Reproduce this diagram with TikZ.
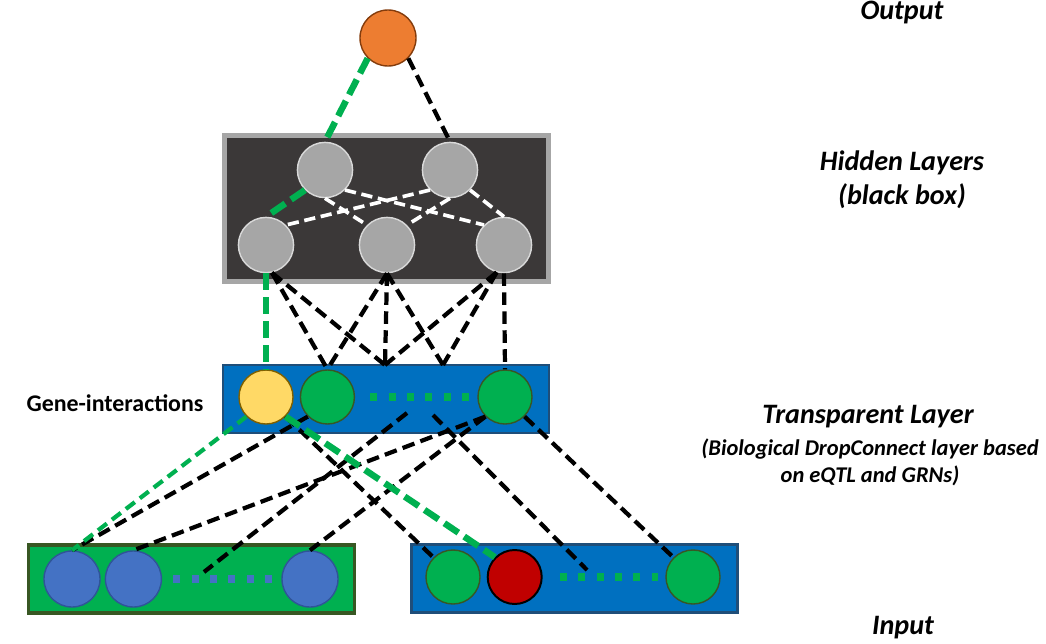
\documentclass[tikz,border=0pt]{standalone}
\usepackage{fontspec}
\setmainfont{Carlito}
\usepackage{tikz}
\usetikzlibrary{positioning, calc}
\definecolor{outorange}{RGB}{237,125,49}
\definecolor{outbrown}{RGB}{132,60,12}
\definecolor{boxdark}{RGB}{59,56,56}
\definecolor{boxrim}{RGB}{166,166,166}
\definecolor{hidgray}{RGB}{166,166,166}
\definecolor{hidrim}{RGB}{217,217,217}
\definecolor{layerblue}{RGB}{0,112,192}
\definecolor{layerrim}{RGB}{31,78,121}
\definecolor{genegreen}{RGB}{0,176,80}
\definecolor{generim}{RGB}{56,87,35}
\definecolor{gixyellow}{RGB}{255,217,102}
\definecolor{gixrim}{RGB}{127,96,0}
\definecolor{snpblue}{RGB}{68,114,196}
\definecolor{snprim}{RGB}{47,85,151}
\definecolor{hitred}{RGB}{192,0,0}
\tikzset{
  neuron/.style={circle, inner sep=0pt, minimum size=1.35cm, line width=1pt},
  outneuron/.style={neuron, minimum size=1.4cm, draw=outbrown, fill=outorange},
  hidneuron/.style={neuron, minimum size=1.38cm, draw=hidrim, fill=hidgray},
  geneneuron/.style={neuron, draw=generim, fill=genegreen},
  gixneuron/.style={neuron, draw=gixrim, fill=gixyellow},
  snpneuron/.style={neuron, minimum size=1.4cm, draw=snprim, fill=snpblue},
  hitneuron/.style={neuron, line width=1.4pt, draw=black, fill=hitred},
  layerbox/.style={rectangle, inner sep=0pt, minimum width=8.15cm, minimum height=1.7cm},
  hiddenbox/.style={layerbox, minimum height=3.65cm, line width=3.2pt, draw=boxrim, fill=boxdark},
  transbox/.style={layerbox, line width=1.5pt, draw=layerrim, fill=layerblue},
  snpbox/.style={layerbox, line width=2.4pt, draw=generim, fill=genegreen},
  genebox/.style={layerbox, line width=1.5pt, draw=layerrim, fill=layerblue},
  dashblack/.style={line width=3pt, dash pattern=on 9pt off 4.5pt, color=black},
  dashwhite/.style={line width=2.6pt, dash pattern=on 8pt off 4pt, color=white},
  dashgreen/.style={line width=4.6pt, dash pattern=on 12pt off 5pt, color=genegreen},
  dashgreenthin/.style={line width=3pt, dash pattern=on 8pt off 4.5pt, color=genegreen},
  dotrow/.style={line width=5pt, dash pattern=on 5pt off 8.1pt},
  title/.style={font=\fontsize{20}{24}\selectfont\bfseries\itshape, align=center, inner sep=0pt},
  note/.style={font=\fontsize{16}{19.2}\selectfont\bfseries\itshape, align=center, inner sep=0pt}
}
\begin{document}
\begin{tikzpicture}[x=0.025cm, y=-0.025cm]
  \useasboundingbox (0,0) rectangle (1046,644);

  % layer boxes
  \node[hiddenbox, minimum width=8.1cm] (hidden) at (386.5,208.5) {};
  \node[transbox] (trans) at (386,399) {};
  \node[snpbox] (snps) at (191.5,579) {};
  \node[genebox] (genes) at (574.5,578.5) {};

  % neurons
  \node[outneuron] (out) at (388,38) {};
  \node[hidneuron] (h1) at (325,170) {};
  \node[hidneuron] (h2) at (450,170) {};
  \node[hidneuron] (h3) at (266,245) {};
  \node[hidneuron] (h4) at (387,245) {};
  \node[hidneuron] (h5) at (504,245) {};

  \node[gixneuron] (t1) at (266,397) {};
  \node[geneneuron, right=0.15cm of t1] (t2) {};
  \node[geneneuron] (t3) at (505,397) {};

  \node[snpneuron] (i1) at (72,579) {};
  \node[snpneuron, right=0.1cm of i1] (i2) {};
  \node[snpneuron] (i3) at (310,579) {};

  \node[geneneuron] (r1) at (453,577) {};
  \node[hitneuron, right=0.15cm of r1] (r2) {};
  \node[geneneuron] (r3) at (693,577) {};

  % ends that sit among the dots
  \coordinate (td1) at (385,365);
  \coordinate (td2) at (443,365);
  \coordinate (tx1) at (407,413);
  \coordinate (tx2) at (433,415);
  \coordinate (ix) at (204,572);
  \coordinate (rx) at (587,570);

  % dots
  \draw[dotrow, genegreen] ([xshift=15*0.025cm]t2.east) -- ++(98.5,0);
  \draw[dotrow, snpblue] ([xshift=11*0.025cm]i2.east) -- ++(98.5,0);
  \draw[dotrow, genegreen] ([xshift=17*0.025cm]r2.east) -- ++(98.5,0);

  % output to hidden
  \draw[dashgreen] (out.south west) -- (h1.north);
  \draw[dashblack] (out.south east) -- (h2.north);
  \draw[dashgreen] (h1.south west) -- (h3.north);
  \draw[dashwhite] (h1.south) -- (h4.north west);
  \draw[dashwhite] (h1.south east) -- (h5.north west);
  \draw[dashwhite] (h2.south west) -- (h3.north east);
  \draw[dashwhite] (h2.south) -- (h4.north east);
  \draw[dashwhite] (h2.south east) -- (h5.north);

  % hidden to transparent layer
  \draw[dashblack] (h3.-78) -- (t2.north);
  \draw[dashblack] (h3.-78) -- (td1);
  \draw[dashblack] (h4.south) -- (t2.north);
  \draw[dashblack] (h4.south) -- (td1);
  \draw[dashblack] (h4.south) -- (td2);
  \draw[dashblack] (h5.-105) -- (td1);
  \draw[dashblack] (h5.-105) -- (td2);
  \draw[dashblack] (h5.south) -- (t3.north);
  \draw[dashgreen] (h3.south) -- (t1.north);

  % transparent layer to inputs
  \draw[dashblack] (t2.south west) -- (i1.north);
  \draw[dashgreenthin] (t1.south west) -- (i1.north);
  \draw[dashblack] (t3.south west) -- (i2.north);
  \draw[dashblack] (t3.south west) -- (i3.north);
  \draw[dashblack] (tx1) -- (ix);
  \draw[dashblack] (t1.south east) -- (r1.north west);
  \draw[dashblack] (tx2) -- (rx);
  \draw[dashblack] (t3.south east) -- (r3.north west);
  \draw[dashgreen] (t1.south east) -- (r2.north west);

  % labels
  \node[title, anchor=north] (outlbl) at (902,1) {Output};
  \node[title] (hidlbl) at (902,180) {Hidden Layers\\(black box)};
  \node[title] (translbl) at (868,417) {Transparent Layer};
  \node[note] (transnote) at (870,462) {(Biological DropConnect layer based\\on eQTL and GRNs)};
  \node[title] (inlbl) at (903,628) {Input};
  \node[font=\fontsize{17}{20}\selectfont\bfseries, inner sep=0pt] (gixlbl) at (115,403) {Gene-interactions};
\end{tikzpicture}
\end{document}
